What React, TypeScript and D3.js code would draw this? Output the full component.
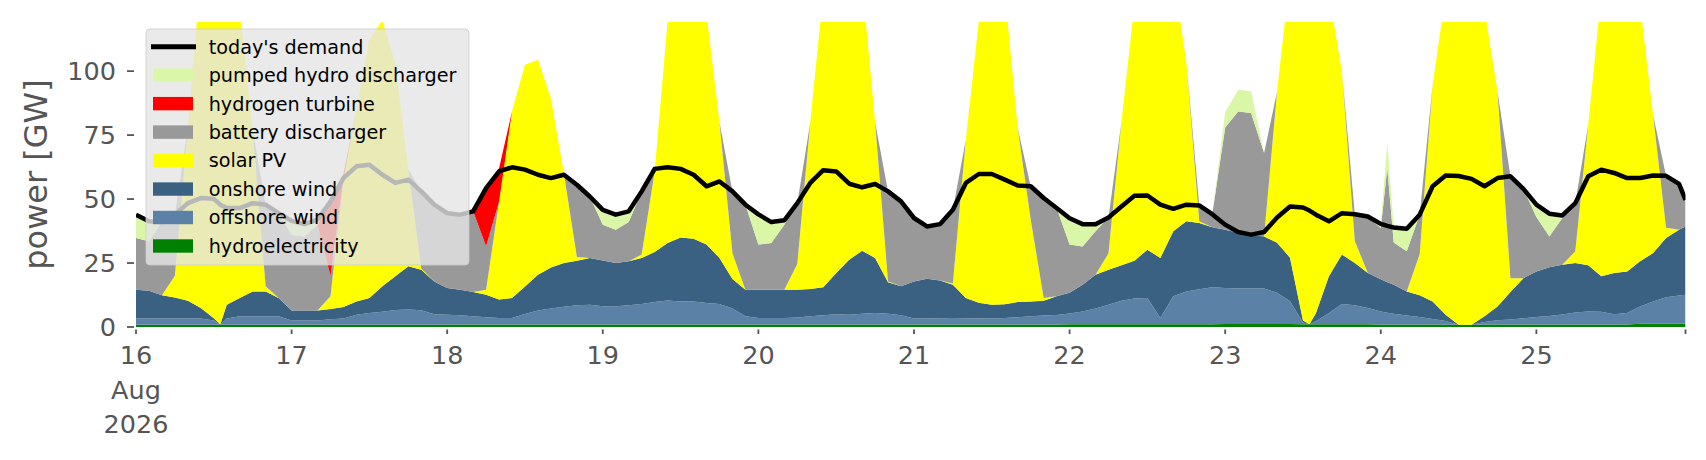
import { useMemo } from "react";
import * as d3 from "d3";

const WIDTH = 1706;
const HEIGHT = 460;
// plot box, in page pixels
const BOX = { left: 136, right: 1685.5, top: 22, bottom: 327 };
const Y_MAX = 119.2;

const START = new Date(2026, 7, 16, 0);
const END_HOUR = 239; // 25 Aug 23:00

// hours since 16 Aug 00:00 (2-hourly, plus a few extra hours at sharp dips/spikes)
const hours = [
  0, 2, 4, 6, 8, 10, 12, 13, 14, 16, 18, 20, 22,
  24, 26, 28, 30, 32, 34, 36, 38, 40, 42, 44, 46,
  48, 50, 52, 54, 56, 58, 60, 62, 64, 66, 68, 70,
  72, 74, 76, 78, 80, 82, 84, 86, 88, 90, 92, 94,
  96, 98, 100, 102, 104, 106, 108, 110, 112, 114, 116, 118,
  120, 122, 124, 126, 128, 130, 132, 134, 136, 138, 140, 142,
  144, 146, 148, 150, 152, 154, 156, 158, 160, 162, 164, 166,
  168, 170, 172, 174, 176, 178, 180, 181, 182, 184, 186, 188, 190,
  192, 193, 194, 196, 198, 200, 202, 204, 206, 208, 210, 212, 214,
  216, 218, 220, 222, 224, 226, 228, 230, 232, 234, 236, 238,
  239,
];

// GW
const hydroelectricity = [
  0.9, 0.9, 0.9, 0.9, 0.9, 0.9, 0.9, 0.9, 0.9, 0.9, 0.9, 0.9, 0.9,
  0.9, 0.9, 0.9, 0.9, 0.9, 0.9, 0.9, 0.9, 0.9, 0.9, 0.9, 0.9,
  1, 1, 1, 1, 1, 1, 1, 1, 1, 1, 1, 1,
  1, 1, 1, 1, 1, 1, 1, 1, 1, 1, 1, 1,
  1, 1, 1, 1, 1, 1, 1, 1, 1, 1, 1, 1,
  1, 1, 1, 1, 1, 1, 1, 1, 1, 1, 1, 1,
  1.1, 1.1, 1.1, 1.1, 1.1, 1.1, 1.1, 1.1, 1.1, 1.1, 1.1, 1.1,
  1.2, 1.2, 1.2, 1.2, 1.2, 1.2, 1.1, 1.1, 1.1, 1.1, 1.1, 1.1, 1.1,
  1, 1, 1, 1, 1, 1, 1, 0.9, 0.9, 1, 1, 1, 1,
  1, 1, 1, 1, 1, 1, 1, 1, 1.3, 1.3, 1.3, 1.3,
  1.3,
];

const offshoreWind = [
  2.4, 2.4, 2.4, 2.4, 2.4, 2.4, 1.6, 0, 2.4, 3.3, 3.3, 3.3, 3.3,
  1.6, 1.6, 1.6, 2.1, 2.4, 3.9, 4.6, 5.1, 5.7, 5.9, 5.6, 4.1,
  3.8, 3.6, 3.2, 2.8, 2.5, 2.5, 4.1, 5.4, 6.2, 6.9, 7.5, 7.7,
  7.1, 7.1, 7.5, 8, 8.8, 9.4, 9, 9, 8.4, 8, 6.2, 3.2,
  2.5, 2.5, 2.5, 2.7, 3.2, 3.6, 4, 3.8, 4.2, 4.5, 4.2, 3.6,
  2.3, 2.3, 2.4, 2.5, 2.4, 2.3, 2.3, 2.5, 2.8, 3.2, 3.5, 3.7,
  4.2, 5, 6.1, 7.6, 9.2, 10, 10.2, 2.4, 10.9, 12.8, 13.7, 14.4,
  14, 13.8, 13.8, 13.8, 12.2, 8.9, 0.7, 0, 1.1, 4.4, 7.9, 7.4, 6.3,
  5.1, 4.6, 4.2, 3.5, 2.9, 2.1, 1.3, 0, 0, 1, 1.6, 1.9, 2.4,
  2.9, 3.3, 3.9, 4.7, 5.1, 5, 4, 4.5, 6.7, 8.7, 10.3, 11,
  11.3,
];

const onshoreWind = [
  11.3, 10.9, 9.1, 8.2, 7, 4.1, 0.9, 0.2, 5.4, 7.1, 9.7, 9.7, 7.1,
  3.9, 3.9, 3.9, 4, 4.5, 5.2, 5.8, 9.9, 13.2, 16.9, 15.9, 12.8,
  10.4, 10, 9.5, 8.8, 7.2, 7.8, 10.7, 14, 16.1, 17.1, 17.4, 18.3,
  17.9, 16.9, 17.2, 18, 19.5, 22.4, 25, 24.5, 22.8, 18, 11.6, 10.4,
  11.1, 11.1, 11.1, 10.9, 10.7, 10.9, 16.1, 21.5, 24.6, 21.5, 12.3, 11.3,
  14.5, 15.6, 14.8, 13, 7.9, 6.2, 5.4, 5.4, 6, 5.8, 5.8, 7.3,
  8.1, 10.4, 13.2, 13.7, 13.8, 14.8, 18.9, 23.5, 25.4, 27.4, 25.8, 23.5,
  22.8, 21.8, 21.1, 20.4, 19.5, 17, 0.7, 0, 3.3, 14.3, 19.3, 16.5, 13.7,
  12.6, 11.9, 11.3, 9.4, 8.5, 6.9, 2.5, 0, 0, 2.2, 5.4, 10.8, 15.7,
  17.8, 19.1, 19.4, 19.3, 18, 13.8, 16.1, 16.2, 17.7, 18.9, 23.2, 25.7,
  26.7,
];

const solarPV = [
  0, 0, 0, 8.5, 67.7, 130, 145, 148, 138, 113, 63, 2, 0,
  0, 0, 0, 5, 50, 75, 101, 104, 83, 38, 0.5, 0,
  0, 0, 0, 2, 38.3, 73, 86.7, 84, 66, 35, 1.5, 0,
  0, 0, 0, 1.3, 31.5, 87, 115, 110, 90, 53, 10, 0,
  0, 0, 0, 10, 65, 115, 128, 125, 105, 53, 0.3, 0,
  0, 0, 0, 0.5, 62, 110, 125, 122, 68, 32, 1, 0,
  0, 0, 0, 6.4, 56, 100, 115, 118, 100, 62.5, 0.7, 0,
  0, 0, 0, 0, 59, 110, 125, 128, 125, 110, 71.6, 8.5, 0,
  0, 0, 0, 0, 16, 84.7, 125, 135, 135, 120, 84, 5.4, 0,
  0, 0, 0, 4.6, 55, 110, 120, 120, 100, 54, 4, 0,
  0,
];

const batteryDischarger = [
  20.2, 19.3, 28.6, 23.9, 0, 0, 0, 0, 0, 0, 0, 31.9, 33.2,
  29.6, 29, 33.6, 8, 0, 0, 0, 0, 0, 0, 30.1, 30,
  29.3, 29.3, 31.5, 17, 0, 0, 0, 0, 0, 0, 28.2, 24,
  14, 13, 15.3, 24.7, 0, 0, 0, 0, 0, 0, 24.2, 33.2,
  17.6, 18.2, 25.4, 23.8, 0, 0, 0, 0, 0, 0, 35.2, 33.2,
  24.8, 20.4, 22, 28.8, 0, 0, 0, 0, 0, 13, 39.1, 34.5,
  18.8, 15, 17, 14, 0, 0, 0, 0, 0, 0, 6.2, 5.1,
  40, 47.4, 47.5, 32.6, 0, 0, 0, 0, 0, 0, 0, 10.6, 22.1,
  20, 44.6, 16.5, 15.7, 15.5, 0, 0, 0, 0, 0, 0, 39.8, 34.9,
  21.3, 12, 18.3, 18.8, 0, 0, 0, 0, 0, 0, 20.3, 17.9,
  10.4,
];

const hydrogenTurbine = [
  0, 0, 0, 0, 0, 0, 0, 0, 0, 0, 0, 0, 0,
  0, 0, 0, 29, 2, 0, 0, 0, 0, 0, 0, 0,
  0, 0, 0, 22.7, 13, 0, 0, 0, 0, 0, 0, 0,
  0, 0, 0, 0, 0, 0, 0, 0, 0, 0, 0, 0,
  0, 0, 0, 0, 0, 0, 0, 0, 0, 0, 0, 0,
  0, 0, 0, 0, 0, 0, 0, 0, 0, 0, 0, 0,
  0, 0, 0, 0, 0, 0, 0, 0, 0, 0, 0, 0,
  0, 0, 0, 0, 0, 0, 0, 0, 0, 0, 0, 0, 0,
  0, 0, 0, 0, 0, 0, 0, 0, 0, 0, 0, 0, 0,
  0, 0, 0, 0, 0, 0, 0, 0, 0, 0, 0, 0,
  0,
];

const pumpedHydroDischarger = [
  9.2, 7.8, 0, 0, 0, 0, 0, 0, 0, 0, 0, 0, 0,
  5.5, 4.8, 2, 0, 0, 0, 0, 0, 0, 0, 0, 0,
  0, 0, 0, 0, 0, 0, 0, 0, 0, 0, 0, 0,
  5.8, 5.9, 4.2, 0, 0, 0, 0, 0, 0, 0, 0, 0,
  11.8, 8.2, 1.7, 0, 0, 0, 0, 0, 0, 0, 0, 0,
  0, 0, 0, 0, 0, 0, 0, 0, 0, 0, 0, 0,
  10.3, 8.7, 2.8, 0, 0, 0, 0, 0, 0, 0, 0, 0,
  6, 8.5, 8.5, 0, 0, 0, 0, 0, 0, 0, 0, 0, 0,
  1.6, 9.8, 5.9, 8.8, 0, 0, 0, 0, 0, 0, 0, 0, 0,
  4.8, 8.9, 1, 0, 0, 0, 0, 0, 0, 0, 0, 0,
  0,
];

const demand = [
  43.9, 41.3, 41, 43.9, 48.4, 50.4, 50.1, 47.8, 46.5, 46.5, 48.4, 47.8, 44.5,
  41.5, 40.2, 42, 49, 58.2, 62.8, 63.4, 59.5, 56.3, 57.6, 53, 47.8,
  44.5, 43.9, 45.2, 54.3, 60.8, 62.4, 61.5, 59.5, 58.2, 59.5, 55.6, 51,
  45.8, 43.9, 45.2, 53, 61.8, 62.4, 61.8, 59.5, 55, 56.9, 53, 47.8,
  44, 41, 41.7, 48.4, 56.3, 61.3, 60.8, 56, 54.6, 55.9, 53, 49.1,
  42.6, 39.3, 40.2, 45.8, 56.3, 59.8, 59.8, 57.6, 55.3, 55, 50.4, 46.5,
  42.5, 40.2, 40.2, 42.8, 47.1, 51.3, 51.4, 47.8, 46.2, 47.8, 47.5, 44.1,
  40, 37.1, 36.1, 37.1, 42.8, 47.1, 46.7, 45.5, 43.9, 41.3, 44.5, 44.1, 43.2,
  40.3, 39.5, 38.9, 38.4, 43.9, 55, 59.2, 59, 57.9, 55, 58.2, 58.9, 54,
  47.8, 44.3, 43.6, 48.4, 58.9, 61.5, 60.2, 58.2, 58.2, 59.2, 59.1, 55.9,
  49.7,
];

const yTicks = [0, 25, 50, 75, 100];

// stack order, bottom first
const LAYERS = [
  { key: "hydro", label: "hydroelectricity", color: "#008000", values: hydroelectricity },
  { key: "offshore", label: "offshore wind", color: "#5b82a6", values: offshoreWind },
  { key: "onshore", label: "onshore wind", color: "#3b6182", values: onshoreWind },
  { key: "solar", label: "solar PV", color: "#ffff00", values: solarPV },
  { key: "battery", label: "battery discharger", color: "#999999", values: batteryDischarger },
  { key: "hydrogen", label: "hydrogen turbine", color: "#ff0000", values: hydrogenTurbine },
  { key: "pumped", label: "pumped hydro discharger", color: "#d9f7a6", values: pumpedHydroDischarger },
];

const FONT = "DejaVu Sans, sans-serif";
const TICK_COLOR = "#555555";

type Row = { [k: string]: number | Date; date: Date };

export default function App() {
  const rows: Row[] = useMemo(
    () =>
      hours.map((h, i) => {
        const r: Row = { date: d3.timeHour.offset(START, h) };
        LAYERS.forEach((l) => (r[l.key] = l.values[i]));
        return r;
      }),
    []
  );

  const endDate = d3.timeHour.offset(START, END_HOUR);
  const xScale = d3.scaleTime().domain([START, endDate]).range([BOX.left, BOX.right]);
  const yScale = d3.scaleLinear().domain([0, Y_MAX]).range([BOX.bottom, BOX.top]);

  const series = d3
    .stack<Row>()
    .keys(LAYERS.map((l) => l.key))
    .value((d, k) => d[k] as number)(rows);

  const areaBuilder = d3
    .area<d3.SeriesPoint<Row>>()
    .x((d) => xScale(d.data.date))
    .y0((d) => yScale(d[0]))
    .y1((d) => yScale(d[1]));

  const demandPath = d3
    .line<number>()
    .x((_, i) => xScale(rows[i].date))
    .y((d) => yScale(d))(demand);

  // day ticks 16..25, plus the closing tick at the right edge
  const days = d3.timeDay.range(START, d3.timeDay.offset(START, 10));
  const tickDates = [...days, endDate];

  const legendItems = [
    { label: "today's demand", color: "#000000", line: true },
    ...LAYERS.slice().reverse().map((l) => ({ label: l.label, color: l.color, line: false })),
  ];
  const LEG = { x: 146, y: 29, w: 323, h: 236, row0: 46.7, step: 28.47 };

  return (
    <div style={{ position: "fixed", left: 0, top: 0 }}>
      <svg width={WIDTH} height={HEIGHT} style={{ display: "block", background: "#fff" }}>
        <defs>
          <clipPath id="plotClip">
            <rect x={BOX.left} y={BOX.top} width={BOX.right - BOX.left} height={BOX.bottom - BOX.top + 4} />
          </clipPath>
        </defs>

        <g clipPath="url(#plotClip)">
          {series.map((s, i) => (
            <path key={s.key} d={areaBuilder(s) || ""} fill={LAYERS[i].color} stroke="none" />
          ))}
          <path d={demandPath || ""} fill="none" stroke="#000" strokeWidth={4.5} strokeLinejoin="round" />
        </g>

        {/* y axis */}
        {yTicks.map((t) => (
          <g key={t}>
            <line x1={127} x2={134} y1={yScale(t)} y2={yScale(t)} stroke={TICK_COLOR} strokeWidth={1.8} />
            <text
              x={116}
              y={yScale(t)}
              dy="0.36em"
              textAnchor="end"
              fontFamily={FONT}
              fontSize={25.5}
              fill={TICK_COLOR}
            >
              {t}
            </text>
          </g>
        ))}
        <text
          transform={`translate(47,${(BOX.top + BOX.bottom) / 2}) rotate(-90)`}
          textAnchor="middle"
          fontFamily={FONT}
          fontSize={32}
          fill={TICK_COLOR}
        >
          power [GW]
        </text>

        {/* x axis */}
        {tickDates.map((d, i) => {
          const x = xScale(d);
          const labelled = i < days.length;
          return (
            <g key={i}>
              <line x1={x} x2={x} y1={329.5} y2={334} stroke={TICK_COLOR} strokeWidth={1.8} />
              {labelled && (
                <text textAnchor="middle" fontFamily={FONT} fontSize={25.5} fill={TICK_COLOR}>
                  <tspan x={x} y={364}>
                    {d3.timeFormat("%-d")(d)}
                  </tspan>
                  {i === 0 && (
                    <>
                      <tspan x={x} y={399}>
                        {d3.timeFormat("%b")(d)}
                      </tspan>
                      <tspan x={x} y={433}>
                        {d3.timeFormat("%Y")(d)}
                      </tspan>
                    </>
                  )}
                </text>
              )}
            </g>
          );
        })}

        {/* legend */}
        <rect
          x={LEG.x}
          y={LEG.y}
          width={LEG.w}
          height={LEG.h}
          rx={4}
          fill="#e5e5e5"
          fillOpacity={0.8}
          stroke="#cccccc"
          strokeOpacity={0.8}
        />
        {legendItems.map((item, i) => {
          const cy = LEG.row0 + i * LEG.step;
          return (
            <g key={item.label}>
              {item.line ? (
                <line x1={151} x2={196} y1={cy} y2={cy} stroke={item.color} strokeWidth={5} />
              ) : (
                <rect x={153} y={cy - 6.7} width={40} height={13.4} fill={item.color} />
              )}
              <text x={208.7} y={cy} dy="0.36em" fontFamily={FONT} fontSize={19.2} fill="#000">
                {item.label}
              </text>
            </g>
          );
        })}
      </svg>
    </div>
  );
}
